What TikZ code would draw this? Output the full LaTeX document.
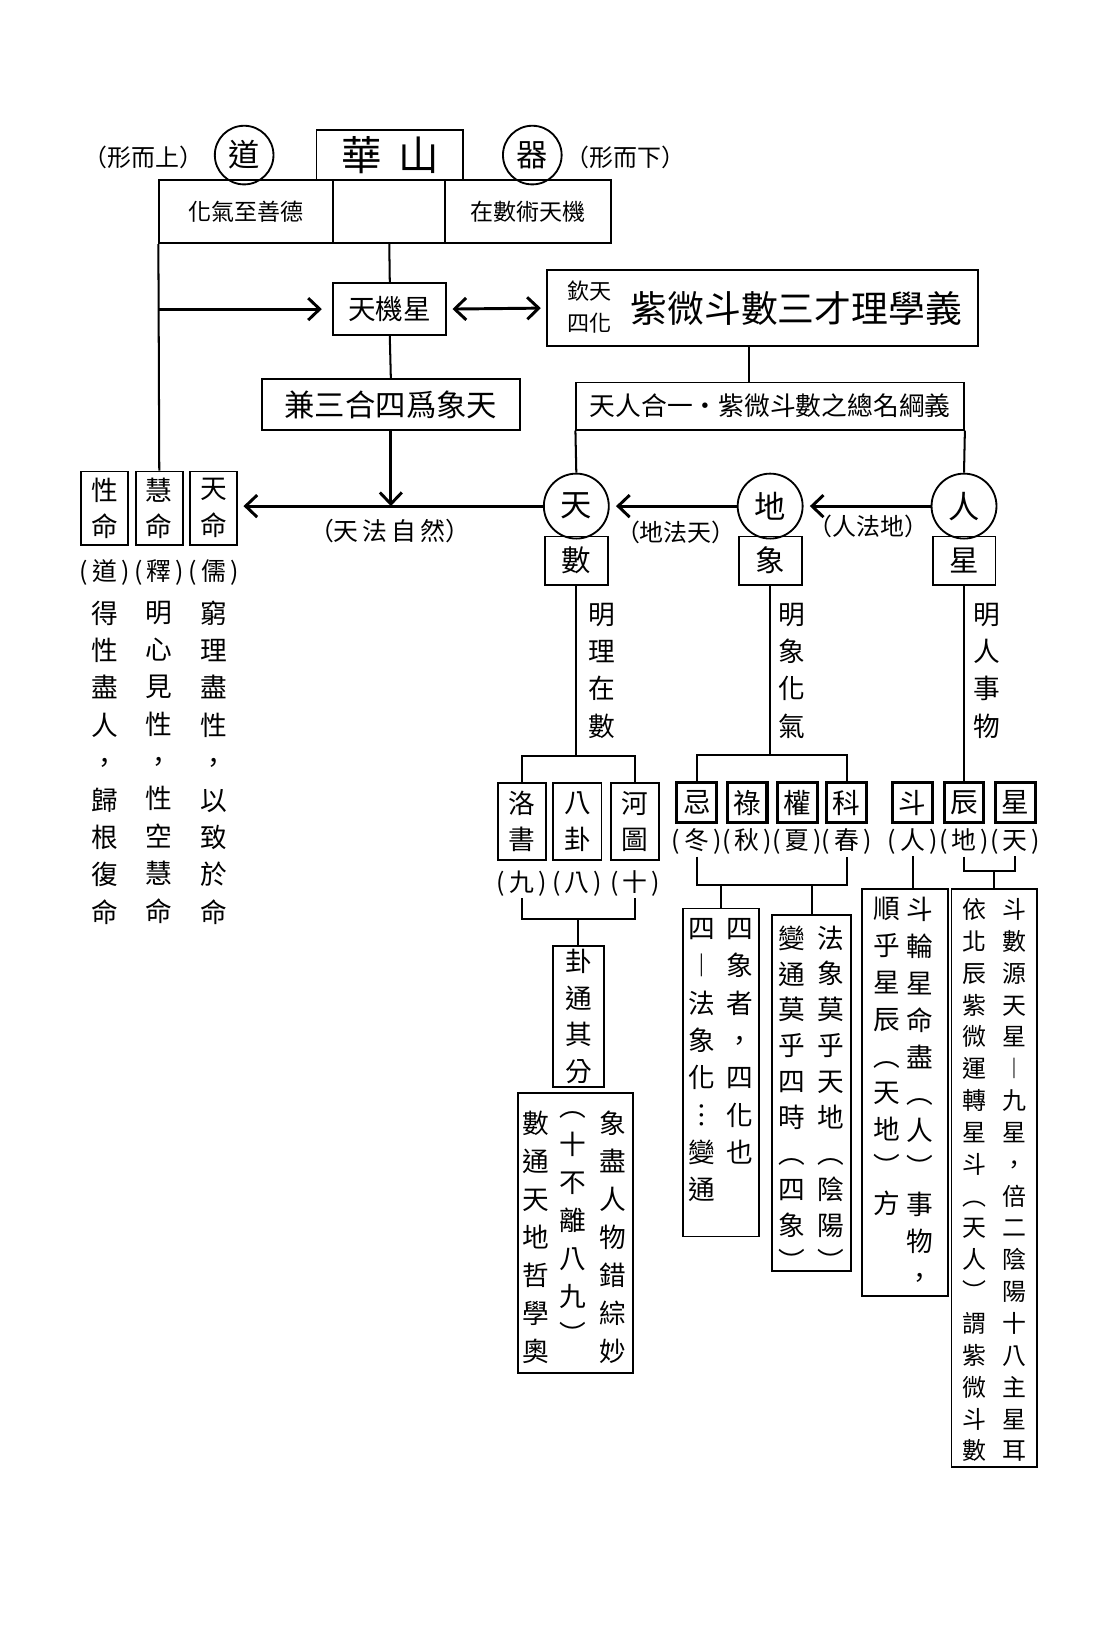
\documentclass[tikz,border=0pt]{standalone}
\usepackage{fontspec}
\setmainfont{Noto Sans CJK TC}
\usetikzlibrary{arrows.meta}
\newcommand{\fsz}[1]{\fontsize{#1}{#1}\selectfont}
\tikzset{
  box/.style={draw,line width=1pt,inner sep=0pt},
  vbox/.style={box,align=center,font=\fontsize{14.5}{19.9}\selectfont},
  tbox/.style={box,line width=1.7pt,minimum size=0.76cm,font=\fsz{15}},
  circ/.style={draw,circle,line width=1pt,inner sep=0pt,font=\fsz{17}},
  lab/.style={inner sep=1pt,font=\fsz{13.5}},
  vtext/.style={align=center,inner sep=0pt,anchor=north,font=\fontsize{14.5}{20.3}\selectfont},
  link/.style={line width=1.1pt},
  arr/.style={line width=1.6pt,-{Straight Barb[length=0.22cm,width=0.42cm,line width=1.6pt]}},
  darr/.style={line width=1.6pt,{Straight Barb[length=0.22cm,width=0.42cm,line width=1.6pt]}-{Straight Barb[length=0.22cm,width=0.42cm,line width=1.6pt]}},
}
\begin{document}
\begin{tikzpicture}[x=0.02cm,y=-0.02cm]
  \fill[white] (0,0) rectangle (1050,1568);
  \useasboundingbox (0,0) rectangle (1050,1568);
  % top row
  \node[font=\fsz{13}] (shang) at (137,150) {（形而上）};
  \node[circ,minimum size=1.12cm] (dao) at (233,148) {道};
  \node[box,minimum width=2.8cm,minimum height=0.96cm,font=\fsz{22}] (huashan) at (372,148) {華\hspace{9pt}山};
  \node[circ,minimum size=1.12cm] (qi) at (508,148) {器};
  \node[font=\fsz{13}] (xia) at (597,150) {（形而下）};
  % second row
  \node[box,minimum width=3.32cm,minimum height=1.2cm,font=\fsz{12.5}] (hua) at (235,202) {化氣至善德};
  \node[box,minimum width=2.14cm,minimum height=1.2cm] (midc) at (371.5,202) {};
  \node[box,minimum width=3.16cm,minimum height=1.2cm,font=\fsz{12.5}] (zai) at (504,202) {在數術天機};
  % middle boxes
  \node[box,minimum width=2.16cm,minimum height=1cm,font=\fsz{15}] (tianji) at (372,295) {天機星};
  \node[box,minimum width=8.22cm,minimum height=1.44cm] (ziwei) at (727.5,294) {};
  \node[align=center,font=\fontsize{12}{17}\selectfont] (qintian) at (563,293) {欽天\\四化};
  \node[font=\fsz{20}] (zwtitle) at (760,294) {紫微斗數三才理學義};
  \node[box,minimum width=4.92cm,minimum height=0.96cm,font=\fsz{16.5}] (jian) at (373,386) {兼三合四爲象天};
  \node[box,minimum width=7.4cm,minimum height=0.9cm,font=\fsz{14}] (tianren) at (735,387.5) {天人合一・紫微斗數之總名綱義};
  % left: three kinds of ming
  \foreach \n/\x/\t in {xingming/100/性,huiming/152/慧,tianming/204/天}
    \node[vbox,minimum width=0.9cm,minimum height=1.4cm] (\n) at (\x,485) {\t\\命};
  \foreach \n/\x/\t in {ldao/100/道,lshi/152/釋,lru/204/儒}
    \node[lab] (\n) at (\x,546) {(\,\t\,)};
  \node[vtext] (col1) at (100,573) {得\\性\\盡\\人\\，\\歸\\根\\復\\命};
  \node[vtext] (col2) at (152,573) {明\\心\\見\\性\\，\\性\\空\\慧\\命};
  \node[vtext] (col3) at (204,573) {窮\\理\\盡\\性\\，\\以\\致\\於\\命};
  % tian di ren
  \node[circ,minimum size=1.24cm] (tian) at (550,483) {天};
  \node[circ,minimum size=1.24cm] (di) at (735,483) {地};
  \node[circ,minimum size=1.24cm] (ren) at (920,483) {人};
  \node[box,minimum width=1.2cm,minimum height=0.92cm,font=\fsz{16}] (shu) at (550,535) {數};
  \node[box,minimum width=1.2cm,minimum height=0.92cm,font=\fsz{16}] (xiang) at (735,535) {象};
  \node[box,minimum width=1.2cm,minimum height=0.92cm,font=\fsz{16}] (xing) at (920,535) {星};
  \node[font=\fsz{13.5}] (tianfa) at (372,507) {（天\,法\,自\,然）};
  \node[font=\fsz{13}] (difa) at (645,508) {（地法天）};
  \node[font=\fsz{13}] (renfa) at (829,502) {（人法地）};
  \node[vtext] (mingli) at (574,575) {明\\理\\在\\數};
  \node[vtext] (mingxiang) at (756,575) {明\\象\\化\\氣};
  \node[vtext] (mingren) at (942,575) {明\\人\\事\\物};
  % shu branch
  \foreach \n/\x/\t in {luo/498/洛\\書,ba/551/八\\卦,he/606/河\\圖}
    \node[vbox,minimum width=0.92cm,minimum height=1.48cm] (\n) at (\x,784) {\t};
  \foreach \n/\x/\t in {nine/498/九,eight/551/八,ten/606/十}
    \node[lab] (\n) at (\x,843) {(\,\t\,)};
  \node[vbox,minimum width=0.98cm,minimum height=2.68cm] (gua) at (552,970) {卦\\通\\其\\分};
  \node[box,minimum width=2.2cm,minimum height=5.34cm] (xiangjin) at (549,1176.5) {};
  \node[vtext,font=\fontsize{14.5}{20.65}\selectfont] (xjr) at (585,1060) {象\\盡\\人\\物\\錯\\綜\\妙};
  \node[vtext,font=\fontsize{14.5}{20.65}\selectfont] (xjm) at (547,1060) {︵\\十\\不\\離\\八\\九\\︶};
  \node[vtext,font=\fontsize{14.5}{20.65}\selectfont] (xjl) at (511,1060) {數\\通\\天\\地\\哲\\學\\奧};
  % xiang branch
  \foreach \n/\x/\t in {ji/665/忌,lu/713/祿,quan/761/權,ke/808/科,dou/871/斗,chen/920/辰,xingb/969/星}
    \node[tbox] (\n) at (\x,766) {\t};
  \foreach \n/\x/\t in {winter/665/冬,autumn/713/秋,summer/761/夏,spring/808/春,lren/871/人,ldi/920/地,ltian/969/天}
    \node[lab] (\n) at (\x,803) {(\,\t\,)};
  \node[box,minimum width=1.44cm,minimum height=6.26cm] (sixiang) at (688,1023.5) {};
  \node[vtext] (sxr) at (706,876) {四\\象\\者\\，\\四\\化\\也};
  \node[vtext] (sxl) at (670,876) {四\\︱\\法\\象\\化\\︙\\變\\通};
  \node[box,minimum width=1.5cm,minimum height=6.8cm] (faxiang) at (774.5,1043) {};
  \node[vtext,font=\fontsize{14.5}{19.5}\selectfont] (fxr) at (793,883) {法\\象\\莫\\乎\\天\\地\\︵\\陰\\陽\\︶};
  \node[vtext,font=\fontsize{14.5}{19.5}\selectfont] (fxl) at (756,883) {變\\通\\莫\\乎\\四\\時\\︵\\四\\象\\︶};
  % xing branch
  \node[box,minimum width=1.64cm,minimum height=7.78cm] (doulun) at (864,1042.5) {};
  \node[vtext,font=\fontsize{14.5}{20}\selectfont] (dlr) at (878,856) {斗\\輪\\星\\命\\盡\\︵\\人\\︶\\事\\物\\，};
  \node[vtext,font=\fontsize{14.5}{20}\selectfont] (dll) at (846,856) {順\\乎\\星\\辰\\︵\\天\\地\\︶\\方};
  \node[box,minimum width=1.64cm,minimum height=11.04cm] (shuyuan) at (949,1124) {};
  \node[vtext,font=\fontsize{13}{17.3}\selectfont] (syr) at (968,857) {斗\\數\\源\\天\\星\\︱\\九\\星\\，\\倍\\二\\陰\\陽\\十\\八\\主\\星\\耳};
  \node[vtext,font=\fontsize{13}{17.3}\selectfont] (syl) at (930,857) {依\\北\\辰\\紫\\微\\運\\轉\\星\\斗\\︵\\天\\人\\︶\\謂\\紫\\微\\斗\\數};
  % connectors
  \draw[link] (midc.south) -- (tianji.north);
  \draw[link] (hua.south west) -- (huiming.north);
  \draw[arr,shorten >=0.2cm] (hua.south west |- tianji.west) -- (tianji.west);
  \draw[darr,shorten <=0.1cm,shorten >=0.1cm] (tianji.east) -- (ziwei.west);
  \draw[link] ([xshift=-0.25cm]ziwei.south) -- ([xshift=-0.25cm]ziwei.south |- tianren.north);
  \draw[link] (tianji.south) -- (jian.north);
  \draw[link] (tianren.south west) -- (tian.north);
  \draw[link] (tianren.south east) -- (ren.north);
  \draw[arr] (jian.south) -- (jian.south |- tian.west);
  \draw[arr,shorten >=0.1cm] (tian.west) -- (tian.west -| tianming.east);
  \draw[arr,shorten >=0.12cm] (di.west) -- (tian.east);
  \draw[arr,shorten >=0.12cm] (ren.west) -- (di.east);
  % brackets
  \draw[link] (luo.north) -- ++(0,-25) coordinate (br1) -| (he.north);
  \draw[link] (shu.south) -- (shu.south |- br1);
  \draw[link] (ji.north) -- ++(0,-25) coordinate (br2) -| (ke.north);
  \draw[link] (xiang.south) -- (xiang.south |- br2);
  \draw[link] (xing.south) -- (chen.north);
  \draw[link] (nine.south) -- ++(0,20) coordinate (br3) -| (ten.south);
  \draw[link] (gua.north) -- (gua.north |- br3);
  \draw[link] (winter.south) -- ++(0,27) coordinate (br4) -| (spring.south);
  \draw[link] (sixiang.north) -- (sixiang.north |- br4);
  \draw[link] (faxiang.north) -- (faxiang.north |- br4);
  \draw[link] (lren.south) -- (lren.south |- doulun.north);
  \draw[link] (ldi.south) -- ++(0,14) coordinate (br5) -| (ltian.south);
  \draw[link] (shuyuan.north) -- (shuyuan.north |- br5);
\end{tikzpicture}
\end{document}
